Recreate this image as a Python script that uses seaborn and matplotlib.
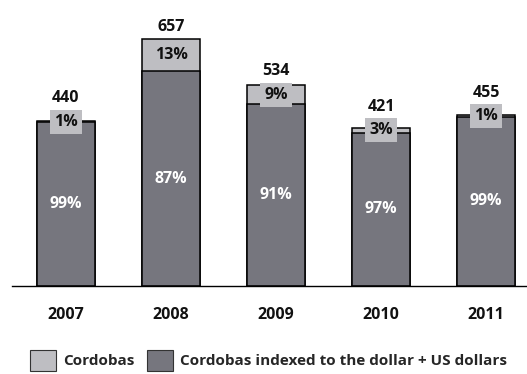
import matplotlib
matplotlib.use("Agg")
import matplotlib.pyplot as plt
import matplotlib.patches as mpatches
import seaborn as sns
import pandas as pd

# Data
years = ["2007", "2008", "2009", "2010", "2011"]
totals = [440, 657, 534, 421, 455]
cordobas_pct = [1, 13, 9, 3, 1]
indexed_pct = [99, 87, 91, 97, 99]
series_names = ["Cordobas", "Cordobas indexed to the dollar + US dollars"]

LIGHT = "#bebec2"
DARK = "#76767e"
FONT = "Open Sans"
FS = 11.5

sns.set_theme(style="white")
plt.rcParams["font.family"] = [FONT, "DejaVu Sans"]
plt.rcParams["font.weight"] = "bold"

df = pd.DataFrame({
    "year": years,
    "total": totals,
    "indexed": [t * p / 100 for t, p in zip(totals, indexed_pct)],
})

W, H, DPI = 527, 374, 100
fig = plt.figure(figsize=(W / DPI, H / DPI), dpi=DPI)
ax = fig.add_axes([12 / W, 88 / H, 1 - 12 / W, 286 / H])

bar_w = 0.56
# full-height bar (Cordobas on top) then the indexed part from the baseline
sns.barplot(data=df, x="year", y="total", order=years, color=LIGHT,
            saturation=1, width=bar_w, edgecolor="black", linewidth=1.1, ax=ax)
sns.barplot(data=df, x="year", y="indexed", order=years, color=DARK,
            saturation=1, width=bar_w, edgecolor="black", linewidth=1.1, ax=ax)

ax.set_xlim(-0.514, 4.39)
ax.set_ylim(0, 761.7)
ax.set_xlabel("")
ax.set_ylabel("")
ax.set_yticks([])
for s in ["left", "right", "top"]:
    ax.spines[s].set_visible(False)
ax.spines["bottom"].set_color("black")
ax.spines["bottom"].set_linewidth(1.0)
ax.tick_params(axis="x", length=0, pad=15, labelsize=FS)
for lab in ax.get_xticklabels():
    lab.set_fontweight("bold")
    lab.set_color("#111111")

# pixels per data unit, for placing the totals above the label boxes
fig.canvas.draw()
ppu = ax.bbox.height / (ax.get_ylim()[1] - ax.get_ylim()[0])
box_half = 11.4 / ppu

for i, (t, cp, ip) in enumerate(zip(totals, cordobas_pct, indexed_pct)):
    dark_h = t * ip / 100
    top_mid = (dark_h + t) / 2
    ax.text(i, top_mid, f"{cp}%", ha="center", va="center", fontsize=FS,
            fontweight="bold", color="#111111",
            bbox=dict(boxstyle="square,pad=0.25", facecolor=LIGHT,
                      edgecolor="none"))
    ax.text(i, dark_h / 2, f"{ip}%", ha="center", va="center", fontsize=FS,
            fontweight="bold", color="white")
    anchor = max(t, top_mid + box_half)
    ax.annotate(f"{t}", xy=(i, anchor), xytext=(0, 8.6),
                textcoords="offset points", ha="center", va="center",
                fontsize=FS, fontweight="bold", color="#111111")

handles = [
    mpatches.Patch(facecolor=LIGHT, edgecolor="#333333", linewidth=0.8),
    mpatches.Patch(facecolor=DARK, edgecolor="#333333", linewidth=0.8),
]
fig.legend(handles, series_names, loc="upper left",
           bbox_to_anchor=(30 / W, 1 - 350 / H), ncol=2, frameon=False,
           handlelength=1.72, handleheight=1.72,
           handletextpad=0.45, columnspacing=0.8, borderpad=0,
           borderaxespad=0, prop={"family": FONT, "weight": "bold", "size": 11})

fig.savefig("out.png", dpi=DPI)
